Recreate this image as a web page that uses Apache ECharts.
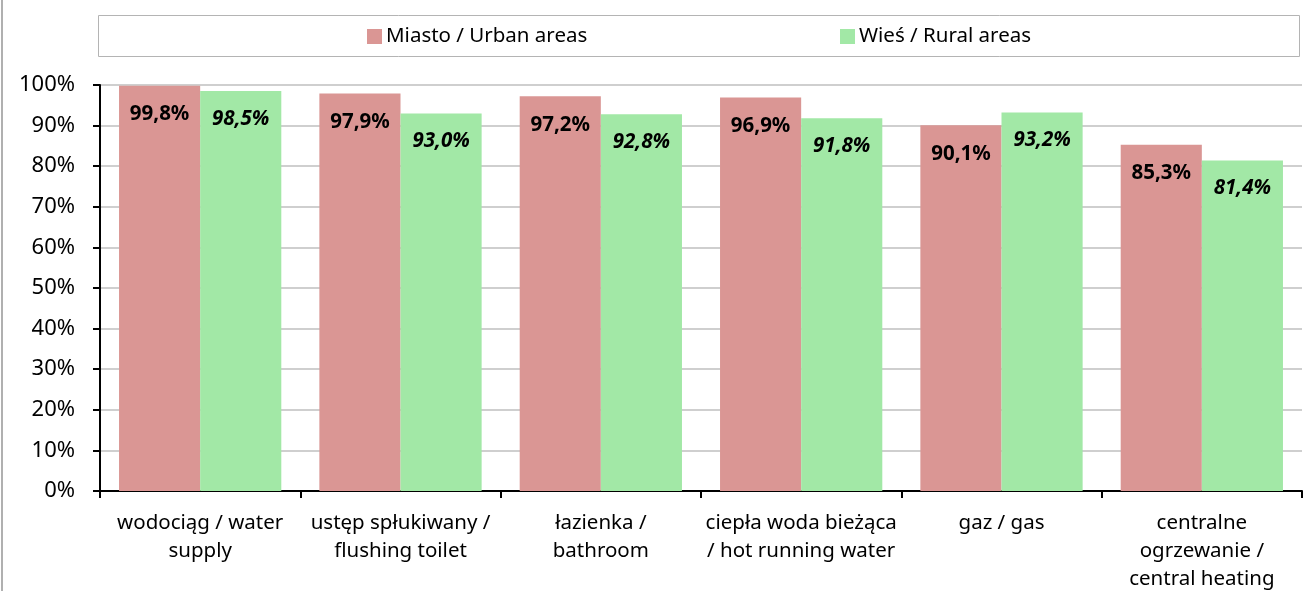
<!DOCTYPE html>
<html>
<head>
<meta charset="utf-8">
<script src="https://cdn.jsdelivr.net/npm/echarts@6/dist/echarts.min.js"></script>
<style>
  html, body { margin: 0; padding: 0; background: #fff; }
  #chart { width: 1303px; height: 591px; }
</style>
</head>
<body>
<div id="chart"></div>
<script>
// Housing amenities, share of dwellings (%)
const categories = [
  'wodociąg / water\nsupply',
  'ustęp spłukiwany /\nflushing toilet',
  'łazienka /\nbathroom',
  'ciepła woda bieżąca\n/ hot running water',
  'gaz / gas',
  'centralne\nogrzewanie /\ncentral heating'
];
const urbanName = 'Miasto / Urban areas';
const ruralName = 'Wieś / Rural areas';
const urban = [99.8, 97.9, 97.2, 96.9, 90.1, 85.3];
const rural = [98.5, 93.0, 92.8, 91.8, 93.2, 81.4];
const yTicks = { min: 0, max: 100, step: 10 };

const FONT = '"Noto Sans", "DejaVu Sans", sans-serif';
const RED = '#DA9694';
const GREEN = '#A2E8A6';

const fmt = v => v.toFixed(1).replace('.', ',') + '%';

const chart = echarts.init(document.getElementById('chart'));
chart.setOption({
  animation: false,
  backgroundColor: '#fff',
  textStyle: { fontFamily: FONT },
  graphic: [
    { type: 'line', shape: { x1: 2, y1: 0, x2: 2, y2: 591 }, style: { stroke: '#b0b0b0', lineWidth: 2 } },
    { type: 'rect', shape: { x: 98.5, y: 15.5, width: 1201, height: 41 }, style: { fill: '#fff', stroke: '#b4b4b4', lineWidth: 1 }, z: -1 }
  ],
  legend: [
    {
      data: [urbanName], left: 362, top: 21, icon: 'rect', itemWidth: 15, itemHeight: 15, itemGap: 0,
      textStyle: { fontSize: 20.5, color: '#000', fontFamily: FONT, padding: [0, 0, 0, -1] }
    },
    {
      data: [ruralName], left: 835, top: 21, icon: 'rect', itemWidth: 15, itemHeight: 15, itemGap: 0,
      textStyle: { fontSize: 20.5, color: '#000', fontFamily: FONT, padding: [0, 0, 0, -1] }
    }
  ],
  grid: { left: 100, right: 1, top: 85, bottom: 100, containLabel: false, outerBoundsMode: 'none' },
  xAxis: {
    type: 'category',
    data: categories,
    axisLine: { lineStyle: { color: '#000', width: 2 } },
    axisTick: { show: true, length: 7, lineStyle: { color: '#000', width: 2 } },
    axisLabel: { interval: 0, color: '#000', fontSize: 20.5, lineHeight: 28, margin: 18, fontFamily: FONT }
  },
  yAxis: {
    type: 'value',
    min: yTicks.min, max: yTicks.max, interval: yTicks.step,
    axisLine: { show: true, lineStyle: { color: '#000', width: 2 } },
    axisTick: { show: true, length: 7, lineStyle: { color: '#000', width: 2 } },
    axisLabel: { formatter: '{value}%', color: '#000', fontSize: 22, margin: 25, fontFamily: FONT },
    splitLine: { lineStyle: { color: '#bfbfbf', width: 1.5 } }
  },
  series: [
    {
      name: urbanName, type: 'bar', data: urban, barGap: '0%', barCategoryGap: '19%',
      itemStyle: { color: RED },
      label: {
        show: true, position: 'insideTop', distance: 18, formatter: p => fmt(p.value),
        color: '#000', fontWeight: 'bold', fontSize: 20.5, fontFamily: FONT
      }
    },
    {
      name: ruralName, type: 'bar', data: rural,
      itemStyle: { color: GREEN },
      label: {
        show: true, position: 'insideTop', distance: 18, formatter: p => fmt(p.value),
        color: '#000', fontWeight: 'bold', fontStyle: 'italic', fontSize: 20.5, fontFamily: FONT
      }
    }
  ]
});
</script>
</body>
</html>
